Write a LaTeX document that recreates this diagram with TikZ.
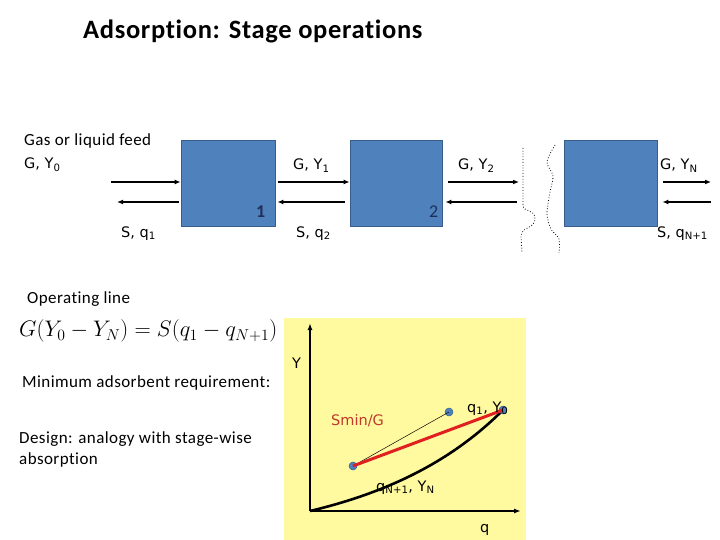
\RequirePackage{fix-cm}
\documentclass[tikz,border=0pt]{standalone}
\usepackage{fontspec}
\setmainfont{Carlito}[LetterSpace=2.5, Ligatures=NoCommon]
\newfontfamily\lbl{DejaVu Sans}
\usetikzlibrary{arrows.meta}
\definecolor{boxblue}{HTML}{4F81BD}
\definecolor{boxedge}{HTML}{385D8A}
\definecolor{navy}{HTML}{1F2F5A}
\definecolor{paleyellow}{RGB}{255,250,160}
\definecolor{smin}{HTML}{C0392B}
\definecolor{redline}{HTML}{E02020}
\tikzset{
  stagebox/.style={draw=boxedge, fill=boxblue, line width=0.8pt, minimum height=86pt, inner sep=0pt},
  arr/.style={line width=1.6pt, -{Latex[length=6pt,width=5pt]}},
  txt/.style={anchor=base west, inner sep=0pt, font=\fontsize{17}{21}\selectfont},
  lab/.style={anchor=base west, inner sep=0pt, font=\lbl\fontsize{14.5}{17}\selectfont},
  num/.style={anchor=base west, inner sep=0pt, text=navy, font=\fontsize{18}{20}\selectfont},
  wave/.style={dotted, line width=0.8pt},
  dot/.style={circle, fill=boxblue, draw=boxedge, line width=0.5pt, minimum size=8pt, inner sep=0pt},
  axis/.style={line width=1.8pt, -{Latex[length=7pt,width=5pt]}}
}
\begin{document}
\begin{tikzpicture}[x=1pt,y=-1pt]
\useasboundingbox (0,0) rectangle (720,540);

% title
\node[anchor=base west, inner sep=0pt, font=\bfseries\fontsize{26.5}{30}\selectfont] (title) at (83,39) {Adsorption: Stage operations};

% stages
\node[stagebox, minimum width=94pt] (b1) at (228,183) {};
\node[stagebox, minimum width=92pt] (b2) at (396,183) {};
\node[stagebox, minimum width=93pt] (bN) at (610.5,183) {};

\node[num, font=\bfseries\fontsize{18}{20}\selectfont] (n1) at (256,218) {1};
\node[num] (n2) at (429,218) {2};

% free ends
\coordinate (f1) at (111,182);
\coordinate (f2) at (117,202);
\coordinate (c2a) at (519,182);
\coordinate (c2b) at (517,202);
\coordinate (e1) at (711,182);
\coordinate (e2) at (711,202);

\draw[arr] (f1) -- ([yshift=1pt]b1.west);
\draw[arr] ([xshift=-2pt,yshift=-19pt]b1.west) -- (f2);
\draw[arr] ([xshift=3pt,yshift=1pt]b1.east) -- ([yshift=1pt]b2.west);
\draw[arr] ([xshift=-5pt,yshift=-19pt]b2.west) -- ([xshift=2pt,yshift=-19pt]b1.east);
\draw[arr] ([xshift=6pt,yshift=1pt]b2.east) -- (c2a);
\draw[arr] (c2b) -- ([xshift=3pt,yshift=-19pt]b2.east);
\draw[arr] ([xshift=6pt,yshift=1pt]bN.east) -- (e1);
\draw[arr] (e2) -- ([xshift=5pt,yshift=-19pt]bN.east);

% wavy break lines
\draw[wave] (523,148) -- (523,205) .. controls (523,213) and (535,208) .. (535,219) .. controls (535,229) and (521,226) .. (521,237) -- (522,253);
\draw[wave] plot[smooth] coordinates {(555,145) (547,162) (553,176) (550,192) (547,214) (551,229) (559,239) (559,253)};

% labels top
\node[txt] (feed) at (24,146) {Gas or liquid feed};
\node[lab] (gy0) at (24,169) {G, Y\textsubscript{0}};
\node[lab] (sq1) at (121,237) {S, q\textsubscript{1}};
\node[lab] (gy1) at (293,170) {G, Y\textsubscript{1}};
\node[lab] (sq2) at (296,237) {S, q\textsubscript{2}};
\node[lab] (gy2) at (458,170) {G, Y\textsubscript{2}};
\node[lab] (gyN) at (660,170) {G, Y\textsubscript{N}};
\node[lab] (sqN) at (657,237) {S, q\textsubscript{N+1}};

% left texts
\node[txt] (opline) at (27,303) {Operating line};
\node[anchor=west, inner sep=0pt, font=\fontsize{22.5}{27}\selectfont] (eq) at (19,331) {$G(Y_0-Y_N)=S(q_1-q_{N+1})$};
\node[txt] (minads) at (22,387) {Minimum adsorbent requirement:};
\node[txt, align=left] (design) at (19,464) {Design: analogy with stage-wise\\absorption};

% graph
\fill[paleyellow] (284,318) rectangle (526,540);
\coordinate (o) at (310,511);
\coordinate (ytop) at (310,323);
\coordinate (xend) at (521,511);
\draw[axis] (o) -- (ytop);
\draw[axis] (o) -- (xend);
\coordinate (eqend) at (503,410);
\draw[line width=2.6pt] (o) .. controls (390,492) and (453,460) .. (eqend);
\node[dot] (pA) at (353,466) {};
\node[dot] (pB) at (449,412) {};
\node[dot] (pC) at (503,410) {};
\draw[line width=0.5pt] (pA.center) -- (pB.center);
\draw[redline, line width=3pt] (pA.center) -- (pC.center);

\node[lab] (Ylab) at (292,368) {Y};
\node[lab, text=smin] (sminG) at (331,425) {Smin/G};
\node[lab] (q1Y0) at (467,412) {q\textsubscript{1}, Y\textsubscript{0}};
\node[lab] (qNYN) at (376,491) {q\textsubscript{N+1}, Y\textsubscript{N}};
\node[lab] (qlab) at (480,532) {q};
\end{tikzpicture}
\end{document}
